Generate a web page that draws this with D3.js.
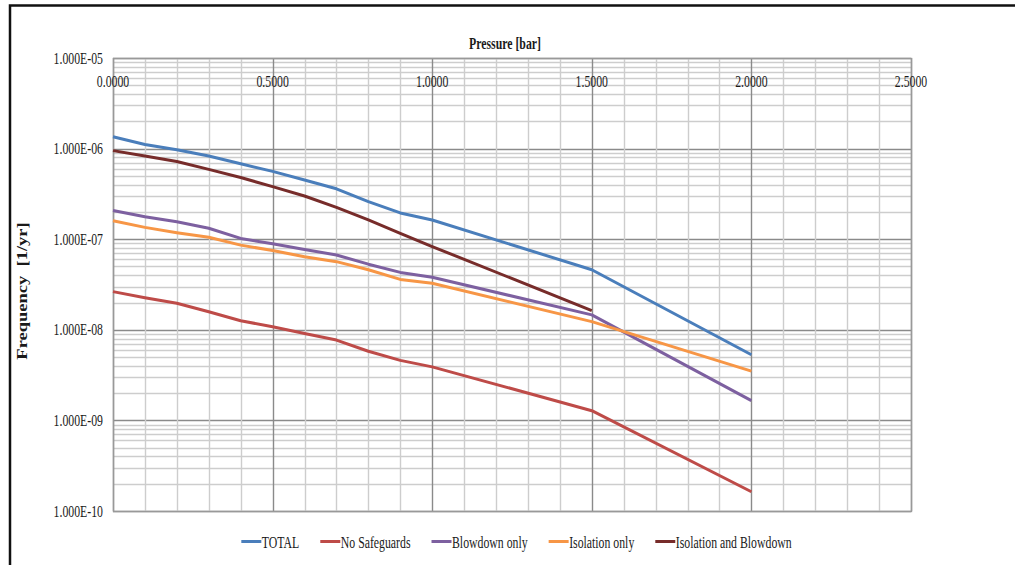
<!DOCTYPE html>
<html>
<head>
<meta charset="utf-8">
<script src="https://cdn.jsdelivr.net/npm/d3@7"></script>
<style>
  body { margin: 0; background: #fff; }
  text { font-family: "Liberation Serif", "Times New Roman", serif; fill: #1a1a1a; }
</style>
</head>
<body>
<svg width="1015" height="565"></svg>
<script>
// values (frequency in 1/yr)
var pressure = [0, 0.1, 0.2, 0.3, 0.4, 0.5, 0.6, 0.7, 0.8, 0.9, 1.0, 1.5, 2.0];
var total = [1.35e-6, 1.11e-6, 9.7e-7, 8.3e-7, 6.8e-7, 5.6e-7, 4.5e-7, 3.6e-7, 2.6e-7, 1.95e-7, 1.63e-7, 4.6e-8, 5.3e-9];
var noSafeguards = [2.64e-8, 2.26e-8, 1.96e-8, 1.58e-8, 1.26e-8, 1.08e-8, 9.1e-9, 7.7e-9, 5.8e-9, 4.6e-9, 3.9e-9, 1.28e-9, 1.63e-10];
var blowdownOnly = [2.07e-7, 1.77e-7, 1.56e-7, 1.32e-7, 1.02e-7, 8.9e-8, 7.7e-8, 6.7e-8, 5.3e-8, 4.3e-8, 3.8e-8, 1.46e-8, 1.65e-9];
var isolationOnly = [1.6e-7, 1.35e-7, 1.18e-7, 1.05e-7, 8.6e-8, 7.5e-8, 6.4e-8, 5.65e-8, 4.6e-8, 3.6e-8, 3.26e-8, 1.23e-8, 3.5e-9];
var isolationBlowdown = [9.5e-7, 8.3e-7, 7.2e-7, 5.9e-7, 4.8e-7, 3.8e-7, 3.0e-7, 2.25e-7, 1.63e-7, 1.16e-7, 8.3e-8, 1.63e-8, null];

var seriesNames = ["TOTAL", "No Safeguards", "Blowdown only", "Isolation only", "Isolation and Blowdown"];
var seriesValues = [total, noSafeguards, blowdownOnly, isolationOnly, isolationBlowdown];
var seriesColors = ["#4a7ebb", "#be4b48", "#7d60a0", "#f79646", "#772c2a"];

var xTickValues = [0, 0.5, 1.0, 1.5, 2.0, 2.5];
var yTickValues = [1e-5, 1e-6, 1e-7, 1e-8, 1e-9, 1e-10];

var svg = d3.select("svg");
// note: "top" is taken by window.top, so plot edges get their own names
var plotLeft = 113, plotRight = 911, plotTop = 58, plotBottom = 511;
var squeeze = 0.715; // the source text looks horizontally condensed
var fontSize = 16.5;

var x = d3.scaleLinear().domain([0, 2.5]).range([plotLeft, plotRight]);
var y = d3.scaleLog().domain([1e-10, 1e-5]).range([plotBottom, plotTop]);

// outer frame
svg.append("path")
  .attr("d", "M10,566 L10,5.5 L1016,5.5")
  .attr("fill", "none")
  .attr("stroke", "#111")
  .attr("stroke-width", 2.5);

// condensed text helper
function label(parent, tx, ty, str, anchor, size, weight) {
  var g = parent.append("g").attr("transform", "translate(" + tx + "," + ty + ") scale(" + squeeze + ",1)");
  return g.append("text")
    .attr("text-anchor", anchor)
    .style("font-size", size + "px")
    .style("font-weight", weight || "normal")
    .text(str);
}

// grid
var grid = svg.append("g");
grid.selectAll("line.h")
  .data(y.ticks())
  .enter()
  .append("line")
  .attr("x1", plotLeft).attr("x2", plotRight)
  .attr("y1", function(d) { return Math.round(y(d)) + 0.5; })
  .attr("y2", function(d) { return Math.round(y(d)) + 0.5; })
  .attr("stroke", function(d) { return Number.isInteger(Math.round(Math.log10(d) * 1000) / 1000) ? "#8a8a8a" : "#cdcdcd"; })
  .attr("stroke-width", 1.4);

grid.selectAll("line.v")
  .data(x.ticks(25))
  .enter()
  .append("line")
  .attr("y1", plotTop).attr("y2", plotBottom)
  .attr("x1", function(d) { return Math.round(x(d)) + 0.5; })
  .attr("x2", function(d) { return Math.round(x(d)) + 0.5; })
  .attr("stroke", function(d) { return Math.abs(d * 2 - Math.round(d * 2)) < 1e-6 ? "#8a8a8a" : "#cdcdcd"; })
  .attr("stroke-width", 1.4);

// plot edges
svg.append("rect")
  .attr("x", plotLeft + 0.5).attr("y", plotTop + 0.5)
  .attr("width", plotRight - plotLeft).attr("height", plotBottom - plotTop)
  .attr("fill", "none")
  .attr("stroke", "#999")
  .attr("stroke-width", 1.4);

// y tick labels
function sci(d) {
  var e = Math.round(Math.log10(d));
  return "1.000E" + (e < 0 ? "-" : "+") + (Math.abs(e) < 10 ? "0" : "") + Math.abs(e);
}
yTickValues.forEach(function(d) {
  label(svg, 103, y(d) + 5.5, sci(d), "end", fontSize);
});

// x tick labels, sitting under the top edge
xTickValues.forEach(function(d) {
  label(svg, x(d), plotTop + 29, d3.format(".4f")(d), "middle", fontSize);
});

// axis titles
label(svg, (plotLeft + plotRight) / 2 - 7, 49, "Pressure [bar]", "middle", fontSize, "bold");
svg.append("g")
  .attr("transform", "translate(27,291) rotate(-90) scale(1,0.76)")
  .append("text")
  .attr("text-anchor", "middle")
  .style("font-size", "18.5px")
  .style("font-weight", "bold")
  .attr("xml:space", "preserve")
  .text("Frequency  [1/yr]");

// series
var line = d3.line()
  .defined(function(d) { return d[1] != null; })
  .x(function(d) { return x(d[0]); })
  .y(function(d) { return y(d[1]); });

svg.append("g")
  .selectAll("path")
  .data(seriesValues)
  .enter()
  .append("path")
  .attr("fill", "none")
  .attr("stroke", function(d, i) { return seriesColors[i]; })
  .attr("stroke-width", 3)
  .attr("stroke-linejoin", "round")
  .attr("d", function(vals) {
    return line(pressure.map(function(p, j) { return [p, vals[j]]; }));
  });

// legend, laid out from measured text widths
var legend = svg.append("g");
var items = seriesNames.map(function(name, i) {
  var g = legend.append("g");
  g.append("line")
    .attr("x1", 0).attr("x2", 20)
    .attr("y1", 0).attr("y2", 0)
    .attr("stroke", seriesColors[i])
    .attr("stroke-width", 3);
  var t = label(g, 20.5, 6, name, "start", fontSize);
  return { g: g, w: 20.5 + t.node().getComputedTextLength() * squeeze };
});
var gap = 21;
var totalW = d3.sum(items, function(d) { return d.w; }) + gap * (items.length - 1);
var cursor = 516.5 - totalW / 2;
items.forEach(function(it) {
  it.g.attr("transform", "translate(" + cursor + ",541.5)");
  cursor += it.w + gap;
});
</script>
</body>
</html>
